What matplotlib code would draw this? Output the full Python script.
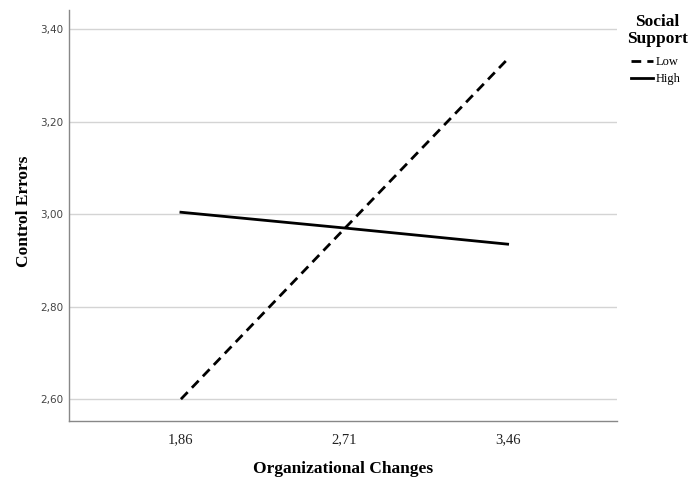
import matplotlib.pyplot as plt
import numpy as np

# data
x_labels = ['1,86', '2,71', '3,46']
low_support = [2.600, 2.968, 3.335]
high_support = [3.004, 2.970, 2.935]
y_ticks = [2.60, 2.80, 3.00, 3.20, 3.40]

plt.rcParams['font.family'] = ['Liberation Serif', 'DejaVu Serif']

W, H = 691, 479
fig = plt.figure(figsize=(W / 100, H / 100), dpi=100)
ax = fig.add_axes([0.0999, 0.121, 0.7931, 0.858])

xpos = np.arange(len(x_labels))
ax.plot(xpos, low_support, color='black', linewidth=2.0, linestyle=(0, (3.5, 2.2)),
        dash_capstyle='butt', label='Low')
ax.plot(xpos, high_support, color='black', linewidth=2.0, label='High')

ax.set_xlim(-0.685, 2.67)
ax.set_ylim(2.5527, 3.441)
ax.set_xticks(xpos)
ax.set_xticklabels(x_labels, fontsize=10.5, color='#222222')
ax.set_yticks(y_ticks)
ax.set_yticklabels([f'{v:.2f}'.replace('.', ',') for v in y_ticks], fontsize=7.5,
                   color='#444444', fontfamily='DejaVu Sans')
ax.tick_params(axis='both', length=0)
ax.tick_params(axis='x', pad=9)
ax.tick_params(axis='y', pad=4)

ax.yaxis.grid(True, color='#d4d4d4', linewidth=1.0)
ax.set_axisbelow(True)
for side in ['top', 'right']:
    ax.spines[side].set_visible(False)
for side in ['left', 'bottom']:
    ax.spines[side].set_color('#888888')
    ax.spines[side].set_linewidth(1.0)

ax.set_xlabel('Organizational Changes', fontsize=12.5, fontweight='bold', va='center')
ax.xaxis.set_label_coords(0.5, -0.116)
ax.set_ylabel('Control Errors', fontsize=12.5, fontweight='bold', va='center')
ax.yaxis.set_label_coords(-0.083, 0.51)

# legend title, drawn as two centred lines like SPSS does
fig.text(657 / W, 1 - 22 / H, 'Social', ha='center', va='center',
         fontsize=12.5, fontweight='bold')
fig.text(657 / W, 1 - 39 / H, 'Support', ha='center', va='center',
         fontsize=12.5, fontweight='bold')
ax.legend(loc='upper left', bbox_to_anchor=(631 / W, 1 - 56 / H),
          bbox_transform=fig.transFigure, frameon=False, fontsize=9,
          handlelength=1.75, handletextpad=0.2, labelspacing=0.4,
          borderpad=0, borderaxespad=0)

fig.savefig('out.png', dpi=100)
